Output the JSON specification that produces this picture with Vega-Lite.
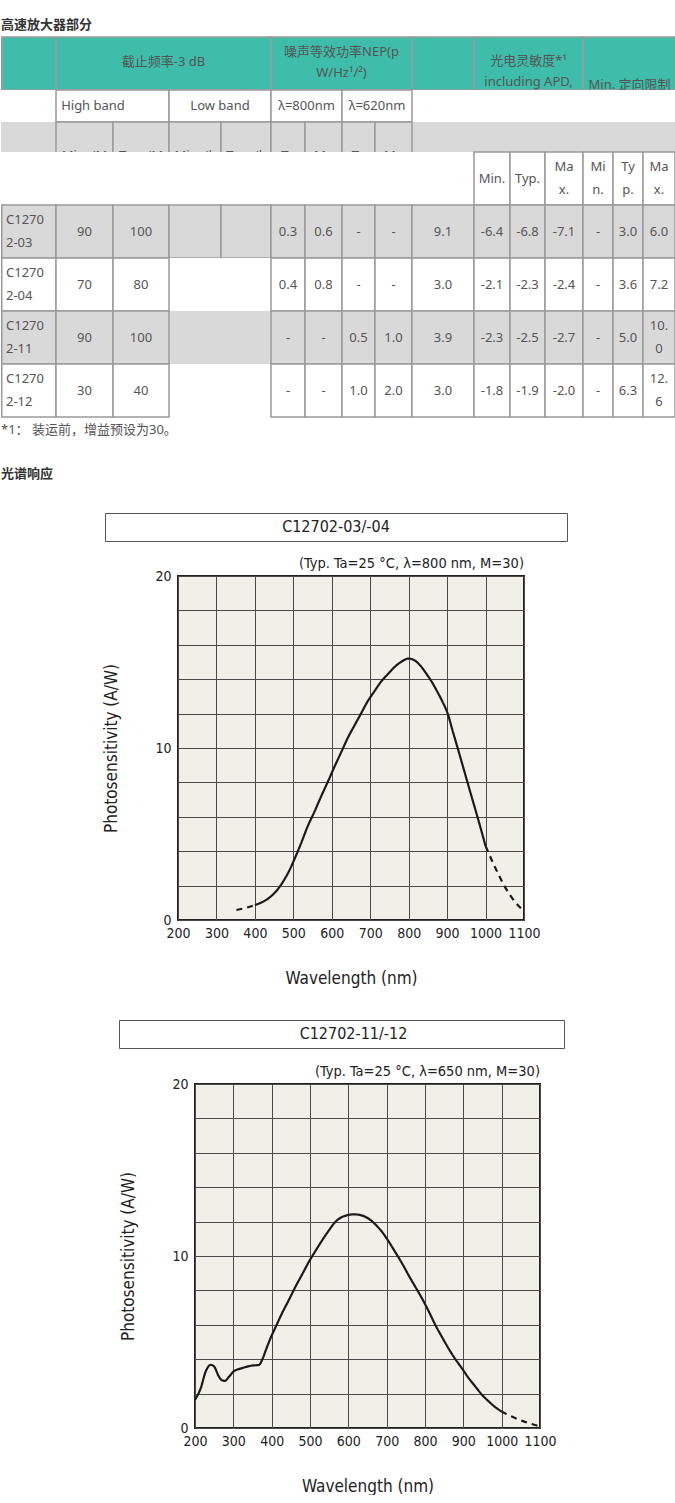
{
  "$schema": "https://vega.github.io/schema/vega-lite/v6.json",
  "padding": 0,
  "background": "white",
  "spacing": 0,
  "bounds": "flush",
  "config": {"view": {"stroke": null}},
  "datasets": {
    "cells": [
      {"g":1,"k":"head","x0":0.75,"x1":55,"y0":37,"y1":90},
      {"g":1,"k":"head","x0":55,"x1":270,"y0":37,"y1":90},
      {"g":1,"k":"head","x0":270,"x1":411,"y0":37,"y1":90},
      {"g":1,"k":"head","x0":411,"x1":473,"y0":37,"y1":90},
      {"g":1,"k":"head","x0":473,"x1":582,"y0":37,"y1":90},
      {"g":1,"k":"head","x0":582,"x1":674,"y0":37,"y1":90},
      {"g":2,"k":"whiteNB","x0":0,"x1":675,"y0":90,"y1":122},
      {"g":2,"k":"white","x0":55,"x1":168,"y0":90,"y1":122},
      {"g":2,"k":"white","x0":168,"x1":270,"y0":90,"y1":122},
      {"g":2,"k":"white","x0":270,"x1":341,"y0":90,"y1":122},
      {"g":2,"k":"white","x0":341,"x1":411,"y0":90,"y1":122},
      {"g":2,"k":"grayNB","x0":0,"x1":675,"y0":122,"y1":152},
      {"g":2,"k":"gray","x0":55,"x1":112,"y0":122,"y1":180},
      {"g":2,"k":"gray","x0":112,"x1":168,"y0":122,"y1":180},
      {"g":2,"k":"gray","x0":168,"x1":220,"y0":122,"y1":180},
      {"g":2,"k":"gray","x0":220,"x1":270,"y0":122,"y1":180},
      {"g":2,"k":"gray","x0":270,"x1":304,"y0":122,"y1":180},
      {"g":2,"k":"gray","x0":304,"x1":341,"y0":122,"y1":180},
      {"g":2,"k":"gray","x0":341,"x1":374,"y0":122,"y1":180},
      {"g":2,"k":"gray","x0":374,"x1":411,"y0":122,"y1":180},
      {"g":3,"k":"whiteNB","x0":0,"x1":675,"y0":152,"y1":205},
      {"g":3,"k":"white","x0":473,"x1":509,"y0":152,"y1":205},
      {"g":3,"k":"white","x0":509,"x1":544,"y0":152,"y1":205},
      {"g":3,"k":"white","x0":544,"x1":582,"y0":152,"y1":205},
      {"g":3,"k":"white","x0":582,"x1":612,"y0":152,"y1":205},
      {"g":3,"k":"white","x0":612,"x1":642,"y0":152,"y1":205},
      {"g":3,"k":"white","x0":642,"x1":674,"y0":152,"y1":205},

      {"g":3,"k":"gray","x0":0.75,"x1":55,"y0":205,"y1":258},
      {"g":3,"k":"gray","x0":55,"x1":112,"y0":205,"y1":258},
      {"g":3,"k":"gray","x0":112,"x1":168,"y0":205,"y1":258},
      {"g":3,"k":"gray","x0":168,"x1":220,"y0":205,"y1":258},
      {"g":3,"k":"gray","x0":220,"x1":270,"y0":205,"y1":258},
      {"g":3,"k":"gray","x0":270,"x1":304,"y0":205,"y1":258},
      {"g":3,"k":"gray","x0":304,"x1":341,"y0":205,"y1":258},
      {"g":3,"k":"gray","x0":341,"x1":374,"y0":205,"y1":258},
      {"g":3,"k":"gray","x0":374,"x1":411,"y0":205,"y1":258},
      {"g":3,"k":"gray","x0":411,"x1":473,"y0":205,"y1":258},
      {"g":3,"k":"gray","x0":473,"x1":509,"y0":205,"y1":258},
      {"g":3,"k":"gray","x0":509,"x1":544,"y0":205,"y1":258},
      {"g":3,"k":"gray","x0":544,"x1":582,"y0":205,"y1":258},
      {"g":3,"k":"gray","x0":582,"x1":612,"y0":205,"y1":258},
      {"g":3,"k":"gray","x0":612,"x1":642,"y0":205,"y1":258},
      {"g":3,"k":"gray","x0":642,"x1":674,"y0":205,"y1":258},

      {"g":3,"k":"whiteNB","x0":168,"x1":270,"y0":258,"y1":311},
      {"g":3,"k":"white","x0":0.75,"x1":55,"y0":258,"y1":311},
      {"g":3,"k":"white","x0":55,"x1":112,"y0":258,"y1":311},
      {"g":3,"k":"white","x0":112,"x1":168,"y0":258,"y1":311},
      {"g":3,"k":"white","x0":270,"x1":304,"y0":258,"y1":311},
      {"g":3,"k":"white","x0":304,"x1":341,"y0":258,"y1":311},
      {"g":3,"k":"white","x0":341,"x1":374,"y0":258,"y1":311},
      {"g":3,"k":"white","x0":374,"x1":411,"y0":258,"y1":311},
      {"g":3,"k":"white","x0":411,"x1":473,"y0":258,"y1":311},
      {"g":3,"k":"white","x0":473,"x1":509,"y0":258,"y1":311},
      {"g":3,"k":"white","x0":509,"x1":544,"y0":258,"y1":311},
      {"g":3,"k":"white","x0":544,"x1":582,"y0":258,"y1":311},
      {"g":3,"k":"white","x0":582,"x1":612,"y0":258,"y1":311},
      {"g":3,"k":"white","x0":612,"x1":642,"y0":258,"y1":311},
      {"g":3,"k":"white","x0":642,"x1":674,"y0":258,"y1":311},

      {"g":3,"k":"grayNB","x0":168,"x1":270,"y0":311,"y1":364},
      {"g":3,"k":"gray","x0":0.75,"x1":55,"y0":311,"y1":364},
      {"g":3,"k":"gray","x0":55,"x1":112,"y0":311,"y1":364},
      {"g":3,"k":"gray","x0":112,"x1":168,"y0":311,"y1":364},
      {"g":3,"k":"gray","x0":270,"x1":304,"y0":311,"y1":364},
      {"g":3,"k":"gray","x0":304,"x1":341,"y0":311,"y1":364},
      {"g":3,"k":"gray","x0":341,"x1":374,"y0":311,"y1":364},
      {"g":3,"k":"gray","x0":374,"x1":411,"y0":311,"y1":364},
      {"g":3,"k":"gray","x0":411,"x1":473,"y0":311,"y1":364},
      {"g":3,"k":"gray","x0":473,"x1":509,"y0":311,"y1":364},
      {"g":3,"k":"gray","x0":509,"x1":544,"y0":311,"y1":364},
      {"g":3,"k":"gray","x0":544,"x1":582,"y0":311,"y1":364},
      {"g":3,"k":"gray","x0":582,"x1":612,"y0":311,"y1":364},
      {"g":3,"k":"gray","x0":612,"x1":642,"y0":311,"y1":364},
      {"g":3,"k":"gray","x0":642,"x1":674,"y0":311,"y1":364},

      {"g":3,"k":"whiteNB","x0":168,"x1":270,"y0":364,"y1":417},
      {"g":3,"k":"white","x0":0.75,"x1":55,"y0":364,"y1":417},
      {"g":3,"k":"white","x0":55,"x1":112,"y0":364,"y1":417},
      {"g":3,"k":"white","x0":112,"x1":168,"y0":364,"y1":417},
      {"g":3,"k":"white","x0":270,"x1":304,"y0":364,"y1":417},
      {"g":3,"k":"white","x0":304,"x1":341,"y0":364,"y1":417},
      {"g":3,"k":"white","x0":341,"x1":374,"y0":364,"y1":417},
      {"g":3,"k":"white","x0":374,"x1":411,"y0":364,"y1":417},
      {"g":3,"k":"white","x0":411,"x1":473,"y0":364,"y1":417},
      {"g":3,"k":"white","x0":473,"x1":509,"y0":364,"y1":417},
      {"g":3,"k":"white","x0":509,"x1":544,"y0":364,"y1":417},
      {"g":3,"k":"white","x0":544,"x1":582,"y0":364,"y1":417},
      {"g":3,"k":"white","x0":582,"x1":612,"y0":364,"y1":417},
      {"g":3,"k":"white","x0":612,"x1":642,"y0":364,"y1":417},
      {"g":3,"k":"white","x0":642,"x1":674,"y0":364,"y1":417}
    ],
    "texts": [
      {"g":1,"r":"c","tx":162.5,"ty":62,"t":"截止频率-3 dB"},
      {"g":1,"r":"c","tx":340.5,"ty":52,"t":["噪声等效功率NEP(p","W/Hz¹/²)"]},
      {"g":1,"r":"c","tx":527.5,"ty":61,"t":["光电灵敏度*¹","including APD,"]},
      {"g":1,"r":"c","tx":628.5,"ty":85,"t":"Min. 定向限制"},

      {"g":2,"r":"c","tx":92,"ty":106,"t":"High band"},
      {"g":2,"r":"c","tx":219,"ty":106,"t":"Low band"},
      {"g":2,"r":"c","tx":305.5,"ty":106,"t":"λ=800nm"},
      {"g":2,"r":"c","tx":376,"ty":106,"t":"λ=620nm"},
      {"g":2,"r":"c","tx":83.5,"ty":156,"t":"Min. (M"},
      {"g":2,"r":"c","tx":140,"ty":156,"t":"Typ. (M"},
      {"g":2,"r":"c","tx":194,"ty":156,"t":"Min. (k"},
      {"g":2,"r":"c","tx":245,"ty":156,"t":"Typ. (k"},
      {"g":2,"r":"c","tx":287,"ty":156,"t":"Ty"},
      {"g":2,"r":"c","tx":322.5,"ty":156,"t":"Ma"},
      {"g":2,"r":"c","tx":357.5,"ty":156,"t":"Ty"},
      {"g":2,"r":"c","tx":392.5,"ty":156,"t":"Ma"},

      {"g":3,"r":"c","tx":491,"ty":178.5,"t":"Min."},
      {"g":3,"r":"c","tx":526.5,"ty":178.5,"t":"Typ."},
      {"g":3,"r":"c","tx":563,"ty":167,"t":["Ma","x."]},
      {"g":3,"r":"c","tx":597,"ty":167,"t":["Mi","n."]},
      {"g":3,"r":"c","tx":627,"ty":167,"t":["Ty","p."]},
      {"g":3,"r":"c","tx":658,"ty":167,"t":["Ma","x."]},

      {"g":3,"r":"l","tx":5,"ty":220,"t":["C1270","2-03"]},
      {"g":3,"r":"c","tx":83.5,"ty":231.5,"t":"90"},
      {"g":3,"r":"c","tx":140,"ty":231.5,"t":"100"},
      {"g":3,"r":"c","tx":287,"ty":231.5,"t":"0.3"},
      {"g":3,"r":"c","tx":322.5,"ty":231.5,"t":"0.6"},
      {"g":3,"r":"c","tx":357.5,"ty":231.5,"t":"-"},
      {"g":3,"r":"c","tx":392.5,"ty":231.5,"t":"-"},
      {"g":3,"r":"c","tx":442,"ty":231.5,"t":"9.1"},
      {"g":3,"r":"c","tx":491,"ty":231.5,"t":"-6.4"},
      {"g":3,"r":"c","tx":526.5,"ty":231.5,"t":"-6.8"},
      {"g":3,"r":"c","tx":563,"ty":231.5,"t":"-7.1"},
      {"g":3,"r":"c","tx":597,"ty":231.5,"t":"-"},
      {"g":3,"r":"c","tx":627,"ty":231.5,"t":"3.0"},
      {"g":3,"r":"c","tx":658,"ty":231.5,"t":"6.0"},

      {"g":3,"r":"l","tx":5,"ty":273,"t":["C1270","2-04"]},
      {"g":3,"r":"c","tx":83.5,"ty":284.5,"t":"70"},
      {"g":3,"r":"c","tx":140,"ty":284.5,"t":"80"},
      {"g":3,"r":"c","tx":287,"ty":284.5,"t":"0.4"},
      {"g":3,"r":"c","tx":322.5,"ty":284.5,"t":"0.8"},
      {"g":3,"r":"c","tx":357.5,"ty":284.5,"t":"-"},
      {"g":3,"r":"c","tx":392.5,"ty":284.5,"t":"-"},
      {"g":3,"r":"c","tx":442,"ty":284.5,"t":"3.0"},
      {"g":3,"r":"c","tx":491,"ty":284.5,"t":"-2.1"},
      {"g":3,"r":"c","tx":526.5,"ty":284.5,"t":"-2.3"},
      {"g":3,"r":"c","tx":563,"ty":284.5,"t":"-2.4"},
      {"g":3,"r":"c","tx":597,"ty":284.5,"t":"-"},
      {"g":3,"r":"c","tx":627,"ty":284.5,"t":"3.6"},
      {"g":3,"r":"c","tx":658,"ty":284.5,"t":"7.2"},

      {"g":3,"r":"l","tx":5,"ty":326,"t":["C1270","2-11"]},
      {"g":3,"r":"c","tx":83.5,"ty":337.5,"t":"90"},
      {"g":3,"r":"c","tx":140,"ty":337.5,"t":"100"},
      {"g":3,"r":"c","tx":287,"ty":337.5,"t":"-"},
      {"g":3,"r":"c","tx":322.5,"ty":337.5,"t":"-"},
      {"g":3,"r":"c","tx":357.5,"ty":337.5,"t":"0.5"},
      {"g":3,"r":"c","tx":392.5,"ty":337.5,"t":"1.0"},
      {"g":3,"r":"c","tx":442,"ty":337.5,"t":"3.9"},
      {"g":3,"r":"c","tx":491,"ty":337.5,"t":"-2.3"},
      {"g":3,"r":"c","tx":526.5,"ty":337.5,"t":"-2.5"},
      {"g":3,"r":"c","tx":563,"ty":337.5,"t":"-2.7"},
      {"g":3,"r":"c","tx":597,"ty":337.5,"t":"-"},
      {"g":3,"r":"c","tx":627,"ty":337.5,"t":"5.0"},
      {"g":3,"r":"c","tx":658,"ty":326,"t":["10.","0"]},

      {"g":3,"r":"l","tx":5,"ty":379,"t":["C1270","2-12"]},
      {"g":3,"r":"c","tx":83.5,"ty":390.5,"t":"30"},
      {"g":3,"r":"c","tx":140,"ty":390.5,"t":"40"},
      {"g":3,"r":"c","tx":287,"ty":390.5,"t":"-"},
      {"g":3,"r":"c","tx":322.5,"ty":390.5,"t":"-"},
      {"g":3,"r":"c","tx":357.5,"ty":390.5,"t":"1.0"},
      {"g":3,"r":"c","tx":392.5,"ty":390.5,"t":"2.0"},
      {"g":3,"r":"c","tx":442,"ty":390.5,"t":"3.0"},
      {"g":3,"r":"c","tx":491,"ty":390.5,"t":"-1.8"},
      {"g":3,"r":"c","tx":526.5,"ty":390.5,"t":"-1.9"},
      {"g":3,"r":"c","tx":563,"ty":390.5,"t":"-2.0"},
      {"g":3,"r":"c","tx":597,"ty":390.5,"t":"-"},
      {"g":3,"r":"c","tx":627,"ty":390.5,"t":"6.3"},
      {"g":3,"r":"c","tx":658,"ty":379,"t":["12.","6"]},

      {"g":3,"r":"l","tx":0,"ty":430,"t":"*1：  装运前，增益预设为30。"},
      {"g":4,"r":"h","tx":0,"ty":25,"t":"高速放大器部分"},
      {"g":4,"r":"h","tx":0,"ty":474,"t":"光谱响应"}
    ],
    "c1": [
      {"nm":352,"v":0.58,"seg":"a","style":"dashed"},
      {"nm":375,"v":0.7,"seg":"a","style":"dashed"},
      {"nm":400,"v":0.87,"seg":"a","style":"dashed"},
      {"nm":400,"v":0.87,"seg":"b","style":"solid"},
      {"nm":420,"v":1.05,"seg":"b","style":"solid"},
      {"nm":441,"v":1.36,"seg":"b","style":"solid"},
      {"nm":460,"v":1.8,"seg":"b","style":"solid"},
      {"nm":476,"v":2.33,"seg":"b","style":"solid"},
      {"nm":490,"v":2.9,"seg":"b","style":"solid"},
      {"nm":502,"v":3.49,"seg":"b","style":"solid"},
      {"nm":520,"v":4.45,"seg":"b","style":"solid"},
      {"nm":537,"v":5.43,"seg":"b","style":"solid"},
      {"nm":555,"v":6.3,"seg":"b","style":"solid"},
      {"nm":572,"v":7.17,"seg":"b","style":"solid"},
      {"nm":590,"v":8.05,"seg":"b","style":"solid"},
      {"nm":607,"v":8.91,"seg":"b","style":"solid"},
      {"nm":625,"v":9.78,"seg":"b","style":"solid"},
      {"nm":641,"v":10.56,"seg":"b","style":"solid"},
      {"nm":660,"v":11.35,"seg":"b","style":"solid"},
      {"nm":676,"v":12.0,"seg":"b","style":"solid"},
      {"nm":693,"v":12.7,"seg":"b","style":"solid"},
      {"nm":711,"v":13.3,"seg":"b","style":"solid"},
      {"nm":728,"v":13.85,"seg":"b","style":"solid"},
      {"nm":746,"v":14.3,"seg":"b","style":"solid"},
      {"nm":763,"v":14.7,"seg":"b","style":"solid"},
      {"nm":780,"v":15.0,"seg":"b","style":"solid"},
      {"nm":800,"v":15.2,"seg":"b","style":"solid"},
      {"nm":815,"v":15.1,"seg":"b","style":"solid"},
      {"nm":830,"v":14.8,"seg":"b","style":"solid"},
      {"nm":845,"v":14.35,"seg":"b","style":"solid"},
      {"nm":860,"v":13.85,"seg":"b","style":"solid"},
      {"nm":875,"v":13.25,"seg":"b","style":"solid"},
      {"nm":890,"v":12.6,"seg":"b","style":"solid"},
      {"nm":900,"v":12.1,"seg":"b","style":"solid"},
      {"nm":915,"v":10.95,"seg":"b","style":"solid"},
      {"nm":930,"v":9.8,"seg":"b","style":"solid"},
      {"nm":945,"v":8.63,"seg":"b","style":"solid"},
      {"nm":960,"v":7.46,"seg":"b","style":"solid"},
      {"nm":975,"v":6.3,"seg":"b","style":"solid"},
      {"nm":990,"v":5.12,"seg":"b","style":"solid"},
      {"nm":1000,"v":4.3,"seg":"b","style":"solid"},
      {"nm":1000,"v":4.3,"seg":"c","style":"dashed"},
      {"nm":1024,"v":3.1,"seg":"c","style":"dashed"},
      {"nm":1050,"v":1.94,"seg":"c","style":"dashed"},
      {"nm":1076,"v":1.07,"seg":"c","style":"dashed"},
      {"nm":1098,"v":0.55,"seg":"c","style":"dashed"}
    ],
    "c2": [
      {"nm":200,"v":1.64,"seg":"b","style":"solid"},
      {"nm":215,"v":2.32,"seg":"b","style":"solid"},
      {"nm":228,"v":3.29,"seg":"b","style":"solid"},
      {"nm":241,"v":3.67,"seg":"b","style":"solid"},
      {"nm":250,"v":3.57,"seg":"b","style":"solid"},
      {"nm":262,"v":3.0,"seg":"b","style":"solid"},
      {"nm":270,"v":2.78,"seg":"b","style":"solid"},
      {"nm":278,"v":2.74,"seg":"b","style":"solid"},
      {"nm":288,"v":2.96,"seg":"b","style":"solid"},
      {"nm":301,"v":3.29,"seg":"b","style":"solid"},
      {"nm":323,"v":3.48,"seg":"b","style":"solid"},
      {"nm":349,"v":3.63,"seg":"b","style":"solid"},
      {"nm":367,"v":3.67,"seg":"b","style":"solid"},
      {"nm":375,"v":3.96,"seg":"b","style":"solid"},
      {"nm":386,"v":4.6,"seg":"b","style":"solid"},
      {"nm":397,"v":5.22,"seg":"b","style":"solid"},
      {"nm":412,"v":5.95,"seg":"b","style":"solid"},
      {"nm":427,"v":6.67,"seg":"b","style":"solid"},
      {"nm":445,"v":7.45,"seg":"b","style":"solid"},
      {"nm":462,"v":8.21,"seg":"b","style":"solid"},
      {"nm":480,"v":8.95,"seg":"b","style":"solid"},
      {"nm":497,"v":9.66,"seg":"b","style":"solid"},
      {"nm":515,"v":10.32,"seg":"b","style":"solid"},
      {"nm":532,"v":10.92,"seg":"b","style":"solid"},
      {"nm":549,"v":11.48,"seg":"b","style":"solid"},
      {"nm":566,"v":11.98,"seg":"b","style":"solid"},
      {"nm":582,"v":12.25,"seg":"b","style":"solid"},
      {"nm":597,"v":12.37,"seg":"b","style":"solid"},
      {"nm":612,"v":12.42,"seg":"b","style":"solid"},
      {"nm":627,"v":12.4,"seg":"b","style":"solid"},
      {"nm":640,"v":12.32,"seg":"b","style":"solid"},
      {"nm":653,"v":12.17,"seg":"b","style":"solid"},
      {"nm":670,"v":11.85,"seg":"b","style":"solid"},
      {"nm":688,"v":11.4,"seg":"b","style":"solid"},
      {"nm":705,"v":10.85,"seg":"b","style":"solid"},
      {"nm":722,"v":10.24,"seg":"b","style":"solid"},
      {"nm":740,"v":9.58,"seg":"b","style":"solid"},
      {"nm":757,"v":8.89,"seg":"b","style":"solid"},
      {"nm":775,"v":8.2,"seg":"b","style":"solid"},
      {"nm":792,"v":7.54,"seg":"b","style":"solid"},
      {"nm":810,"v":6.77,"seg":"b","style":"solid"},
      {"nm":827,"v":5.99,"seg":"b","style":"solid"},
      {"nm":844,"v":5.3,"seg":"b","style":"solid"},
      {"nm":861,"v":4.64,"seg":"b","style":"solid"},
      {"nm":878,"v":4.04,"seg":"b","style":"solid"},
      {"nm":896,"v":3.48,"seg":"b","style":"solid"},
      {"nm":913,"v":2.93,"seg":"b","style":"solid"},
      {"nm":931,"v":2.42,"seg":"b","style":"solid"},
      {"nm":948,"v":1.95,"seg":"b","style":"solid"},
      {"nm":966,"v":1.55,"seg":"b","style":"solid"},
      {"nm":983,"v":1.22,"seg":"b","style":"solid"},
      {"nm":999,"v":0.97,"seg":"b","style":"solid"},
      {"nm":999,"v":0.97,"seg":"c","style":"dashed"},
      {"nm":1017,"v":0.76,"seg":"c","style":"dashed"},
      {"nm":1035,"v":0.58,"seg":"c","style":"dashed"},
      {"nm":1052,"v":0.43,"seg":"c","style":"dashed"},
      {"nm":1070,"v":0.29,"seg":"c","style":"dashed"},
      {"nm":1085,"v":0.19,"seg":"c","style":"dashed"},
      {"nm":1098,"v":0.1,"seg":"c","style":"dashed"}
    ]
  },
  "vconcat": [
    {
      "width": 675,
      "height": 513,
      "layer": [
        {
          "data": {"name": "cells"},
          "transform": [{"filter": "datum.g == 1"}],
          "mark": {"type": "rect", "strokeWidth": 1.5},
          "encoding": {
            "x": {"field": "x0", "type": "quantitative", "scale": {"domain": [0, 675], "nice": false, "zero": false}, "axis": null},
            "x2": {"field": "x1"},
            "y": {"field": "y0", "type": "quantitative", "scale": {"domain": [0, 513], "nice": false, "zero": false, "reverse": true}, "axis": null},
            "y2": {"field": "y1"},
            "fill": {"field": "k", "type": "nominal", "scale": {"domain": ["head", "gray", "white", "grayNB", "whiteNB"], "range": ["#3ebdaa", "#d9d9d9", "#ffffff", "#d9d9d9", "#ffffff"]}, "legend": null},
            "stroke": {"field": "k", "type": "nominal", "scale": {"domain": ["head", "gray", "white", "grayNB", "whiteNB"], "range": ["#9a9a9a", "#9a9a9a", "#9a9a9a", "rgba(0,0,0,0)", "rgba(0,0,0,0)"]}, "legend": null}
          }
        },
        {
          "data": {"name": "texts"},
          "transform": [{"filter": "datum.g == 1"}],
          "mark": {"type": "text", "align": "center", "baseline": "middle", "font": "Noto Sans, Noto Sans CJK SC", "fontSize": 13, "fill": "#555555", "lineHeight": 21},
          "encoding": {
            "x": {"field": "tx", "type": "quantitative"},
            "y": {"field": "ty", "type": "quantitative"},
            "text": {"field": "t"}
          }
        },
        {
          "data": {"name": "cells"},
          "transform": [{"filter": "datum.g == 2"}],
          "mark": {"type": "rect", "strokeWidth": 1.5},
          "encoding": {
            "x": {"field": "x0", "type": "quantitative"},
            "x2": {"field": "x1"},
            "y": {"field": "y0", "type": "quantitative"},
            "y2": {"field": "y1"},
            "fill": {"field": "k", "type": "nominal", "legend": null},
            "stroke": {"field": "k", "type": "nominal", "legend": null}
          }
        },
        {
          "data": {"name": "texts"},
          "transform": [{"filter": "datum.g == 2"}],
          "mark": {"type": "text", "align": "center", "baseline": "middle", "font": "Noto Sans, Noto Sans CJK SC", "fontSize": 13, "fill": "#555555"},
          "encoding": {
            "x": {"field": "tx", "type": "quantitative"},
            "y": {"field": "ty", "type": "quantitative"},
            "text": {"field": "t"}
          }
        },
        {
          "data": {"name": "cells"},
          "transform": [{"filter": "datum.g == 3"}],
          "mark": {"type": "rect", "strokeWidth": 1.5},
          "encoding": {
            "x": {"field": "x0", "type": "quantitative"},
            "x2": {"field": "x1"},
            "y": {"field": "y0", "type": "quantitative"},
            "y2": {"field": "y1"},
            "fill": {"field": "k", "type": "nominal", "legend": null},
            "stroke": {"field": "k", "type": "nominal", "legend": null}
          }
        },
        {
          "data": {"name": "texts"},
          "transform": [{"filter": "datum.g == 3 && datum.r == 'c'"}],
          "mark": {"type": "text", "align": "center", "baseline": "middle", "font": "Noto Sans, Noto Sans CJK SC", "fontSize": 13, "fill": "#555555", "lineHeight": 23},
          "encoding": {
            "x": {"field": "tx", "type": "quantitative"},
            "y": {"field": "ty", "type": "quantitative"},
            "text": {"field": "t"}
          }
        },
        {
          "data": {"name": "texts"},
          "transform": [{"filter": "datum.g == 3 && datum.r == 'l'"}],
          "mark": {"type": "text", "align": "left", "baseline": "middle", "font": "Noto Sans, Noto Sans CJK SC", "fontSize": 13, "fill": "#555555", "lineHeight": 23},
          "encoding": {
            "x": {"field": "tx", "type": "quantitative"},
            "y": {"field": "ty", "type": "quantitative"},
            "text": {"field": "t"}
          }
        },
        {
          "data": {"name": "texts"},
          "transform": [{"filter": "datum.r == 'h'"}],
          "mark": {"type": "text", "align": "left", "baseline": "middle", "font": "Noto Sans CJK SC", "fontSize": 13, "fontWeight": "bold", "fill": "#333333"},
          "encoding": {
            "x": {"field": "tx", "type": "quantitative"},
            "y": {"field": "ty", "type": "quantitative"},
            "text": {"field": "t"}
          }
        }
      ]
    },
    {
      "hconcat": [
        {"width": 104, "height": 28, "data": {"values": []}, "mark": "point"},
        {
          "width": 462,
          "height": 28,
          "view": {"stroke": "#555555", "strokeWidth": 1, "fill": "white"},
          "data": {"values": [{"t": "C12702-03/-04"}]},
          "mark": {"type": "text", "font": "DejaVu Sans Condensed, DejaVu Sans", "fontSize": 16, "fill": "#222222", "baseline": "middle"},
          "encoding": {"text": {"field": "t"}}
        }
      ],
      "spacing": 0,
      "bounds": "flush"
    },
    {"width": 1, "height": 63, "data": {"values": []}, "mark": "point"},
    {
      "hconcat": [
        {"width": 177, "height": 344, "data": {"values": []}, "mark": "point"},
        {
          "width": 346,
          "height": 344,
          "view": {"fill": "#f1f0e8", "stroke": "#222222", "strokeWidth": 2},
          "title": {"text": "(Typ. Ta=25 °C, λ=800 nm, M=30)", "anchor": "end", "frame": "group", "font": "DejaVu Sans Condensed, DejaVu Sans", "fontSize": 14.5, "fontWeight": "normal", "color": "#222222", "offset": -2},
          "data": {"name": "c1"},
          "mark": {"type": "line", "interpolate": "monotone", "color": "#1a1a1a", "strokeWidth": 2.2},
          "encoding": {
            "x": {"field": "nm", "type": "quantitative", "scale": {"domain": [200, 1100], "nice": false, "zero": false},
              "axis": {"values": [200, 300, 400, 500, 600, 700, 800, 900, 1000, 1100], "format": "d", "grid": true, "gridColor": "#4a4a4a", "gridWidth": 1, "ticks": false, "domain": false, "labelFont": "DejaVu Sans Condensed, DejaVu Sans", "labelFontSize": 14, "labelColor": "#222222", "labelPadding": 6, "labelFlush": false, "labelOverlap": false, "title": "Wavelength (nm)", "titleFont": "DejaVu Sans Condensed, DejaVu Sans", "titleFontSize": 17, "titleFontWeight": "normal", "titleColor": "#222222", "titlePadding": 30}},
            "y": {"field": "v", "type": "quantitative", "scale": {"domain": [0, 20], "nice": false, "zero": true},
              "axis": {"values": [0, 2, 4, 6, 8, 10, 12, 14, 16, 18, 20], "labelExpr": "datum.value % 10 === 0 ? datum.label : ''", "grid": true, "gridColor": "#4a4a4a", "gridWidth": 1, "ticks": false, "domain": false, "labelFont": "DejaVu Sans Condensed, DejaVu Sans", "labelFontSize": 14, "labelColor": "#222222", "labelPadding": 7, "labelFlush": false, "labelOverlap": false, "title": "Photosensitivity (A/W)", "titleFont": "DejaVu Sans Condensed, DejaVu Sans", "titleFontSize": 17, "titleFontWeight": "normal", "titleColor": "#222222", "titlePadding": 34}},
            "detail": {"field": "seg"},
            "strokeDash": {"field": "style", "type": "nominal", "scale": {"domain": ["solid", "dashed"], "range": [[1, 0], [6, 5]]}, "legend": null}
          }
        }
      ],
      "spacing": 0,
      "bounds": "flush"
    },
    {"width": 1, "height": 444, "data": {"values": []}, "mark": "point"},
    {
      "hconcat": [
        {"width": 118, "height": 28, "data": {"values": []}, "mark": "point"},
        {
          "width": 445,
          "height": 28,
          "view": {"stroke": "#555555", "strokeWidth": 1, "fill": "white"},
          "data": {"values": [{"t": "C12702-11/-12"}]},
          "mark": {"type": "text", "font": "DejaVu Sans Condensed, DejaVu Sans", "fontSize": 16, "fill": "#222222", "baseline": "middle", "dx": 12},
          "encoding": {"text": {"field": "t"}}
        }
      ],
      "spacing": 0,
      "bounds": "flush"
    },
    {"width": 1, "height": 64, "data": {"values": []}, "mark": "point"},
    {
      "hconcat": [
        {"width": 194, "height": 344, "data": {"values": []}, "mark": "point"},
        {
          "width": 345,
          "height": 344,
          "view": {"fill": "#f1f0e8", "stroke": "#222222", "strokeWidth": 2},
          "title": {"text": "(Typ. Ta=25 °C, λ=650 nm, M=30)", "anchor": "end", "frame": "group", "font": "DejaVu Sans Condensed, DejaVu Sans", "fontSize": 14.5, "fontWeight": "normal", "color": "#222222", "offset": -2},
          "data": {"name": "c2"},
          "mark": {"type": "line", "interpolate": "monotone", "color": "#1a1a1a", "strokeWidth": 2.2},
          "encoding": {
            "x": {"field": "nm", "type": "quantitative", "scale": {"domain": [200, 1100], "nice": false, "zero": false},
              "axis": {"values": [200, 300, 400, 500, 600, 700, 800, 900, 1000, 1100], "format": "d", "grid": true, "gridColor": "#4a4a4a", "gridWidth": 1, "ticks": false, "domain": false, "labelFont": "DejaVu Sans Condensed, DejaVu Sans", "labelFontSize": 14, "labelColor": "#222222", "labelPadding": 6, "labelFlush": false, "labelOverlap": false, "title": "Wavelength (nm)", "titleFont": "DejaVu Sans Condensed, DejaVu Sans", "titleFontSize": 17, "titleFontWeight": "normal", "titleColor": "#222222", "titlePadding": 30}},
            "y": {"field": "v", "type": "quantitative", "scale": {"domain": [0, 20], "nice": false, "zero": true},
              "axis": {"values": [0, 2, 4, 6, 8, 10, 12, 14, 16, 18, 20], "labelExpr": "datum.value % 10 === 0 ? datum.label : ''", "grid": true, "gridColor": "#4a4a4a", "gridWidth": 1, "ticks": false, "domain": false, "labelFont": "DejaVu Sans Condensed, DejaVu Sans", "labelFontSize": 14, "labelColor": "#222222", "labelPadding": 7, "labelFlush": false, "labelOverlap": false, "title": "Photosensitivity (A/W)", "titleFont": "DejaVu Sans Condensed, DejaVu Sans", "titleFontSize": 17, "titleFontWeight": "normal", "titleColor": "#222222", "titlePadding": 34}},
            "detail": {"field": "seg"},
            "strokeDash": {"field": "style", "type": "nominal", "scale": {"domain": ["solid", "dashed"], "range": [[1, 0], [6, 5]]}, "legend": null}
          }
        }
      ],
      "spacing": 0,
      "bounds": "flush"
    }
  ]
}
